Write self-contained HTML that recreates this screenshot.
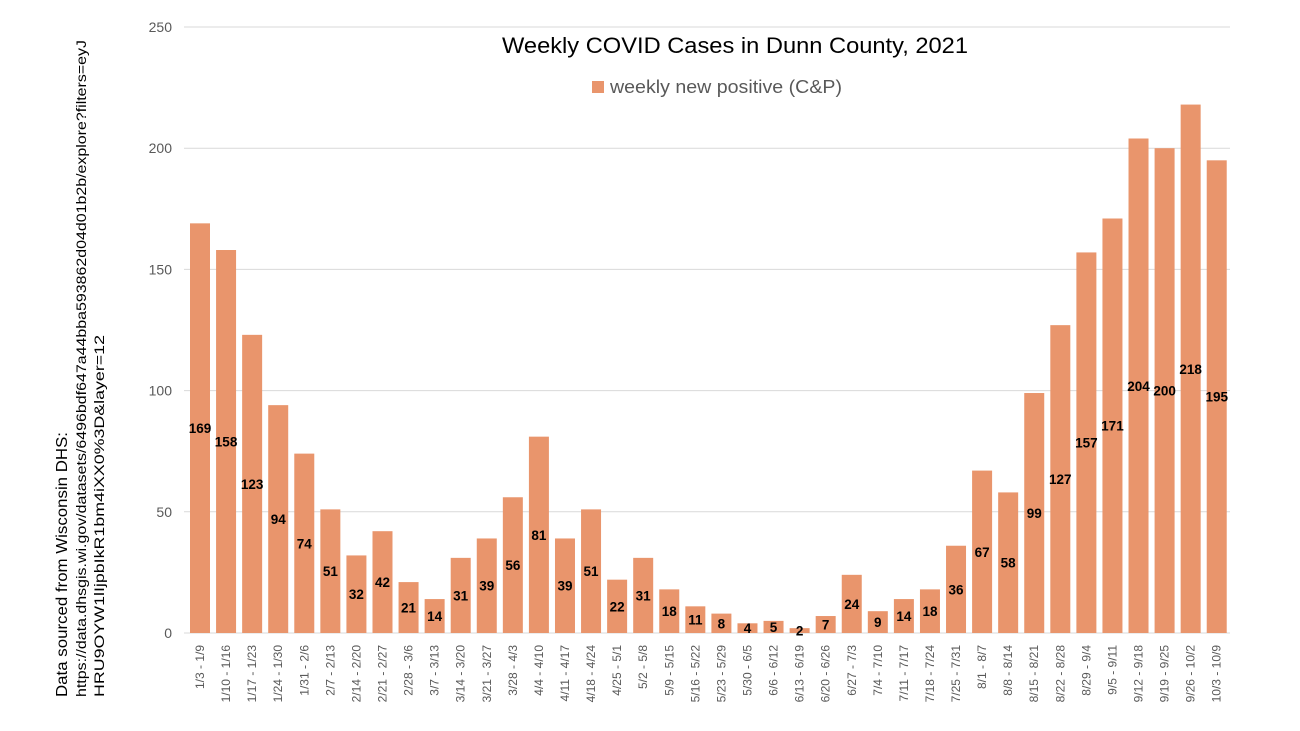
<!DOCTYPE html>
<html><head><meta charset="utf-8"><style>
html,body{margin:0;padding:0;background:#fff;}
svg{display:block;font-family:"Liberation Sans",sans-serif;}
</style></head><body>
<svg id="c" width="1300" height="731" viewBox="0 0 1300 731" xmlns="http://www.w3.org/2000/svg">
<text x="502" y="53" font-size="22" textLength="466" lengthAdjust="spacingAndGlyphs" fill="#000">Weekly COVID Cases in Dunn County, 2021</text>
<rect x="592" y="81" width="12" height="12" fill="#E9956C"/>
<text x="610" y="93" font-size="18" textLength="232" lengthAdjust="spacingAndGlyphs" fill="#595959">weekly new positive (C&amp;P)</text>
<g transform="translate(67,697) rotate(-90)"><text x="0" y="0" font-size="16" textLength="265" lengthAdjust="spacingAndGlyphs" fill="#000">Data sourced from Wisconsin DHS:</text></g>
<g transform="translate(86,697) rotate(-90)"><text x="0" y="0" font-size="13.5" textLength="657" lengthAdjust="spacingAndGlyphs" fill="#000">https://data.dhsgis.wi.gov/datasets/6496bdf647a44bba593862d04d01b2b/explore?filters=eyJ</text></g>
<g transform="translate(104,697) rotate(-90)"><text x="0" y="0" font-size="13.5" textLength="362" lengthAdjust="spacingAndGlyphs" fill="#000">HRU9OYW1lIjpbIkR1bm4iXX0%3D&amp;layer=12</text></g>
<g id="g"></g>
</svg>
<script>
var v=[169,158,123,94,74,51,32,42,21,14,31,39,56,81,39,51,22,31,18,11,8,4,5,2,7,24,9,14,18,36,67,58,99,127,157,171,204,200,218,195];
var l=["1/3 - 1/9","1/10 - 1/16","1/17 - 1/23","1/24 - 1/30","1/31 - 2/6","2/7 - 2/13","2/14 - 2/20","2/21 - 2/27","2/28 - 3/6","3/7 - 3/13","3/14 - 3/20","3/21 - 3/27","3/28 - 4/3","4/4 - 4/10","4/11 - 4/17","4/18 - 4/24","4/25 - 5/1","5/2 - 5/8","5/9 - 5/15","5/16 - 5/22","5/23 - 5/29","5/30 - 6/5","6/6 - 6/12","6/13 - 6/19","6/20 - 6/26","6/27 - 7/3","7/4 - 7/10","7/11 - 7/17","7/18 - 7/24","7/25 - 7/31","8/1 - 8/7","8/8 - 8/14","8/15 - 8/21","8/22 - 8/28","8/29 - 9/4","9/5 - 9/11","9/12 - 9/18","9/19 - 9/25","9/26 - 10/2","10/3 - 10/9"];
var s='',y0=633,k=2.424;
for(var t=0;t<=250;t+=50){var y=y0-t*k;
 s+='<line x1="184" x2="1230" y1="'+y+'" y2="'+y+'" stroke="#d9d9d9" stroke-width="1"/>';
 s+='<text x="172" y="'+(y+5)+'" font-size="14" text-anchor="end" fill="#595959">'+t+'</text>';}
for(var i=0;i<v.length;i++){var x=190+26.07*i,h=v[i]*k,cx=x+10;
 s+='<rect x="'+x+'" y="'+(y0-h)+'" width="20" height="'+h+'" fill="#E9956C"/>';
 s+='<text x="'+cx+'" y="'+(y0-h/2+5)+'" font-size="13.5" font-weight="bold" text-anchor="middle" fill="#000">'+v[i]+'</text>';
 s+='<g transform="translate('+(cx+4)+',645) rotate(-90)"><text x="0" y="0" font-size="12" text-anchor="end" fill="#595959">'+l[i]+'</text></g>';}
document.getElementById('g').innerHTML=s;
</script>
</body></html>
